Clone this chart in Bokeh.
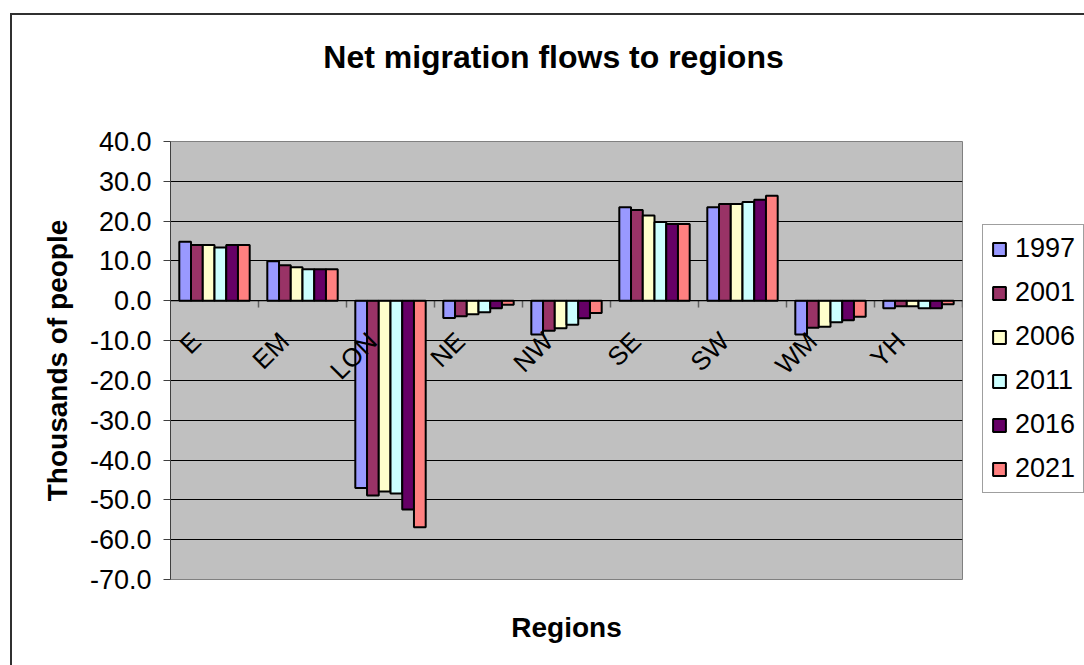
from bokeh.plotting import figure
from bokeh.models import (ColumnDataSource, Range1d, Span, NumeralTickFormatter,
                          FixedTicker, Legend, LegendItem, Div)
from bokeh.layouts import column
from bokeh.transform import dodge
from bokeh.core.properties import value
from bokeh.embed import file_html
from bokeh.resources import INLINE
import math

regions = ["E", "EM", "LON", "NE", "NW", "SE", "SW", "WM", "YH"]
years = ["1997", "2001", "2006", "2011", "2016", "2021"]
y1997 = [14.8, 9.9, -47.0, -4.3, -8.5, 23.5, 23.5, -8.5, -1.9]
y2001 = [14.0, 8.9, -48.9, -3.9, -7.5, 22.8, 24.3, -6.8, -1.4]
y2006 = [14.0, 8.4, -47.9, -3.4, -6.9, 21.4, 24.3, -6.5, -1.4]
y2011 = [13.4, 7.9, -48.4, -2.9, -6.0, 19.8, 24.8, -5.4, -1.9]
y2016 = [14.0, 7.9, -52.4, -1.9, -4.4, 19.3, 25.4, -4.9, -1.9]
y2021 = [14.0, 7.9, -56.9, -1.0, -3.1, 19.3, 26.4, -4.0, -0.9]
y_ticks = [-70, -60, -50, -40, -30, -20, -10, 0, 10, 20, 30, 40]
title_text = "Net migration flows to regions"

colors = ["#9999FF", "#993366", "#FFFFCC", "#CCFFFF", "#660066", "#FF8080"]
series = [y1997, y2001, y2006, y2011, y2016, y2021]

FONT = "Liberation Sans"

data = {"region": regions, "zero": [0] * len(regions), "tick_bottom": [-1.7] * len(regions)}
for yr, s in zip(years, series):
    data["y" + yr] = s
src = ColumnDataSource(data)

p = figure(x_range=regions, y_range=Range1d(-70, 40), title=None,
           width=1072, height=540, frame_width=792, frame_height=438,
           min_border_left=158, min_border_top=16, min_border_right=122, min_border_bottom=86,
           output_backend="svg", toolbar_location=None)

p.background_fill_color = "#C0C0C0"
p.border_fill_color = "white"
p.outline_line_color = "#808080"
p.outline_line_width = 1

bw = 0.8 / 6
items = []
for i, (yr, c) in enumerate(zip(years, colors)):
    off = (i - 2.5) * bw
    r = p.vbar(x=dodge("region", off, range=p.x_range), top="y" + yr, bottom=0,
               width=bw, source=src, fill_color=c, line_color="black", line_width=2)
    items.append(LegendItem(label=yr, renderers=[r]))

# zero line
p.add_layout(Span(location=0, dimension="width", line_color="black", line_width=1))

# category boundary ticks on the zero line
p.segment(x0=dodge("region", 0.5, range=p.x_range), x1=dodge("region", 0.5, range=p.x_range),
          y0="zero", y1="tick_bottom", source=src, line_color="#606060", line_width=1.5)

# category labels, rotated, just below the zero line
p.text(x="region", y="zero", text="region", source=src, angle=math.pi / 4,
       text_align="right", text_baseline="middle", x_offset=-18, y_offset=36,
       text_font=value(FONT), text_font_size="26px", text_color="black")

# y axis
p.yaxis.ticker = FixedTicker(ticks=y_ticks)
p.yaxis.formatter = NumeralTickFormatter(format="0.0")
p.yaxis.major_label_text_font = FONT
p.yaxis.major_label_text_font_size = "27px"
p.yaxis.major_label_text_color = "black"
p.yaxis.major_tick_in = 0
p.yaxis.major_tick_out = 7
p.yaxis.minor_tick_in = 0
p.yaxis.minor_tick_out = 0
p.yaxis.axis_line_color = "#404040"
p.yaxis.major_tick_line_color = "#404040"
p.yaxis.major_label_standoff = 12
p.yaxis.axis_label = "Thousands of people"
p.yaxis.axis_label_text_font = FONT
p.yaxis.axis_label_text_font_size = "28px"
p.yaxis.axis_label_text_font_style = "bold"
p.yaxis.axis_label_text_color = "black"
p.yaxis.axis_label_standoff = 14

# x axis: only title
p.xaxis.ticker = FixedTicker(ticks=[])
p.xaxis.major_tick_line_color = None
p.xaxis.minor_tick_line_color = None
p.xaxis.axis_line_color = None
p.xaxis.axis_label = "Regions"
p.xaxis.axis_label_text_font = FONT
p.xaxis.axis_label_text_font_size = "28px"
p.xaxis.axis_label_text_font_style = "bold"
p.xaxis.axis_label_text_color = "black"
p.xaxis.axis_label_standoff = 32

p.xgrid.grid_line_color = None
p.ygrid.grid_line_color = "black"
p.ygrid.grid_line_width = 1
p.ygrid.ticker = FixedTicker(ticks=y_ticks)

legend = Legend(items=items, location=(20, 86), orientation="vertical",
                label_text_font=FONT, label_text_font_size="27px", label_text_color="black",
                glyph_width=16, glyph_height=16, label_height=27, spacing=13,
                padding=8, margin=0, label_standoff=8,
                border_line_color="#404040", border_line_width=1,
                background_fill_color="white", background_fill_alpha=1)
p.add_layout(legend, "right")

title_div = Div(
    text=('<div style="font-family: \'Liberation Sans\'; font-size: 32px; font-weight: bold; '
          'color: black; text-align: center; width: 1072px; box-sizing: border-box; '
          'padding: 23px 0 0 11px; line-height: 38px; white-space: nowrap;">'
          + title_text + '</div>'),
    width=1072, height=110, margin=0)

layout = column(title_div, p, margin=(13, 0, 0, 10), spacing=0,
                styles={"border-left": "2px solid #303030", "border-top": "2px solid #303030",
                        "background-color": "white"})

open("out.html", "w").write(file_html(layout, INLINE))
